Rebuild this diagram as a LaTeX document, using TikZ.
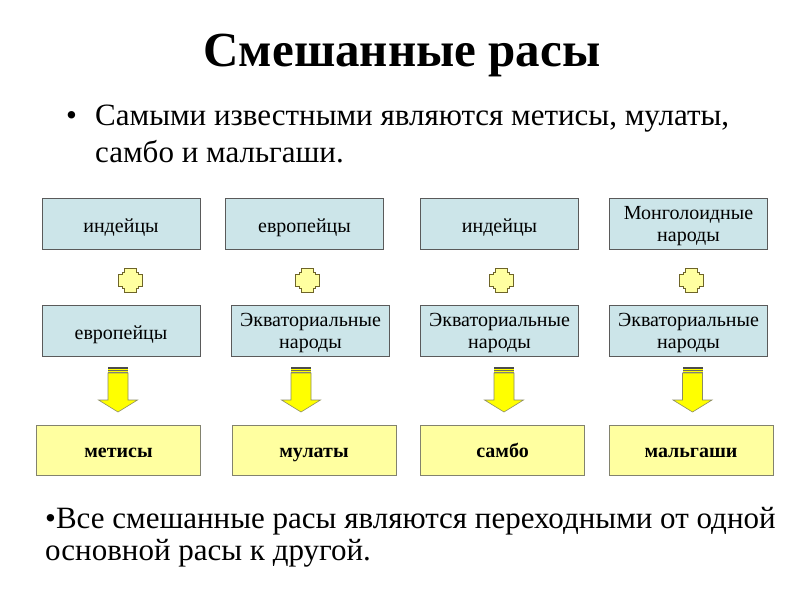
\documentclass[tikz,border=0pt]{standalone}
\usepackage{fontspec}
\setmainfont{Liberation Serif}
\usetikzlibrary{calc}
\definecolor{topfill}{RGB}{204,229,233}
\definecolor{topdraw}{RGB}{90,90,90}
\definecolor{botfill}{RGB}{255,255,160}
\definecolor{botdraw}{RGB}{130,130,110}
\definecolor{plusfill}{RGB}{255,255,160}
\definecolor{plusdraw}{RGB}{110,100,40}
\definecolor{arrfill}{RGB}{255,255,0}
\definecolor{arrdraw}{RGB}{140,140,100}
\begin{document}
\begin{tikzpicture}[x=1pt,y=-1pt,
  boxbase/.style={line width=0.9pt, minimum width=158pt, minimum height=51pt, inner sep=0pt, align=center, font=\fontsize{20}{22}\selectfont},
  topbox/.style={boxbase, draw=topdraw, fill=topfill, text height=17pt, text depth=0pt},
  topbox2/.style={boxbase, draw=topdraw, fill=topfill, text height=36pt, text depth=0pt},
  botbox/.style={boxbase, draw=botdraw, fill=botfill, minimum width=164pt, minimum height=50pt, text height=14pt, text depth=0pt, font=\fontsize{20}{22}\selectfont\bfseries},
  txt/.style={anchor=base west, inner sep=0pt, font=\fontsize{31}{34}\selectfont},
  plusshape/.style={draw=plusdraw, fill=plusfill, line width=0.8pt},
  arrowshape/.style={draw=arrdraw, fill=arrfill, line width=0.6pt}
]
\useasboundingbox[fill=white] (0,0) rectangle (800,600);
\node[anchor=base, inner sep=0pt, font=\fontsize{49}{54}\selectfont\bfseries] (title) at (402,66) {Смешанные расы};
\node[txt] (bul) at (66,125) {•};
\node[txt] (l1) at (95,125) {Самыми известными являются метисы, мулаты,};
\node[txt] (l2) at (95,162) {самбо и мальгаши.};
\node[txt] (b1) at (45,528) {•Все смешанные расы являются переходными от одной};
\node[txt] (b2) at (45,560) {основной расы к другой.};

\node[topbox] (t1) at (121,223.5) {индейцы};
\node[topbox] (t2) at (304.5,223.5) {европейцы};
\node[topbox] (t3) at (499.5,223.5) {индейцы};
\node[topbox2] (t4) at (688.5,223.5) {Монголоидные\\народы};
\node[topbox] (m1) at (121,330.5) {европейцы};
\node[topbox2] (m2) at (310.5,330.5) {Экваториальные\\народы};
\node[topbox2] (m3) at (499.5,330.5) {Экваториальные\\народы};
\node[topbox2] (m4) at (688.5,330.5) {Экваториальные\\народы};
\node[botbox] (r1) at (118.5,450) {метисы};
\node[botbox] (r2) at (314,450) {мулаты};
\node[botbox] (r3) at (502.5,450) {самбо};
\node[botbox] (r4) at (691,450) {мальгаши};

\foreach \n/\x in {1/130,2/307,3/501,4/691}{
  \coordinate (p\n) at (\x,280.5);
  \draw[plusshape] ($(p\n)+(-6,-12)$) -- ++(12,0) -- ++(0,4) -- ++(2,0) -- ++(0,2) -- ++(4,0) -- ++(0,12) -- ++(-4,0) -- ++(0,2) -- ++(-2,0) -- ++(0,4) -- ++(-12,0) -- ++(0,-4) -- ++(-2,0) -- ++(0,-2) -- ++(-4,0) -- ++(0,-12) -- ++(4,0) -- ++(0,-2) -- ++(2,0) -- cycle;
}
\foreach \n/\x in {1/118,2/301,3/504,4/692.5}{
  \coordinate (a\n) at (\x,367);
  \draw[arrowshape] ($(a\n)+(-10,6)$) -- ++(20,0) -- ++(0,27) -- ++(9.5,0) -- ($(a\n)+(0,45)$) -- ($(a\n)+(-19.5,33)$) -- ++(9.5,0) -- cycle;
  \fill[black!70] ($(a\n)+(-10,0)$) rectangle ++(20,1.5);
  \fill[arrfill] ($(a\n)+(-10,1.5)$) rectangle ++(20,1.2);
  \fill[black!60] ($(a\n)+(-10,2.7)$) rectangle ++(20,1.2);
  \fill[arrfill] ($(a\n)+(-10,3.9)$) rectangle ++(20,1);
  \fill[black!50] ($(a\n)+(-10,4.9)$) rectangle ++(20,1.1);
}
\end{tikzpicture}
\end{document}
